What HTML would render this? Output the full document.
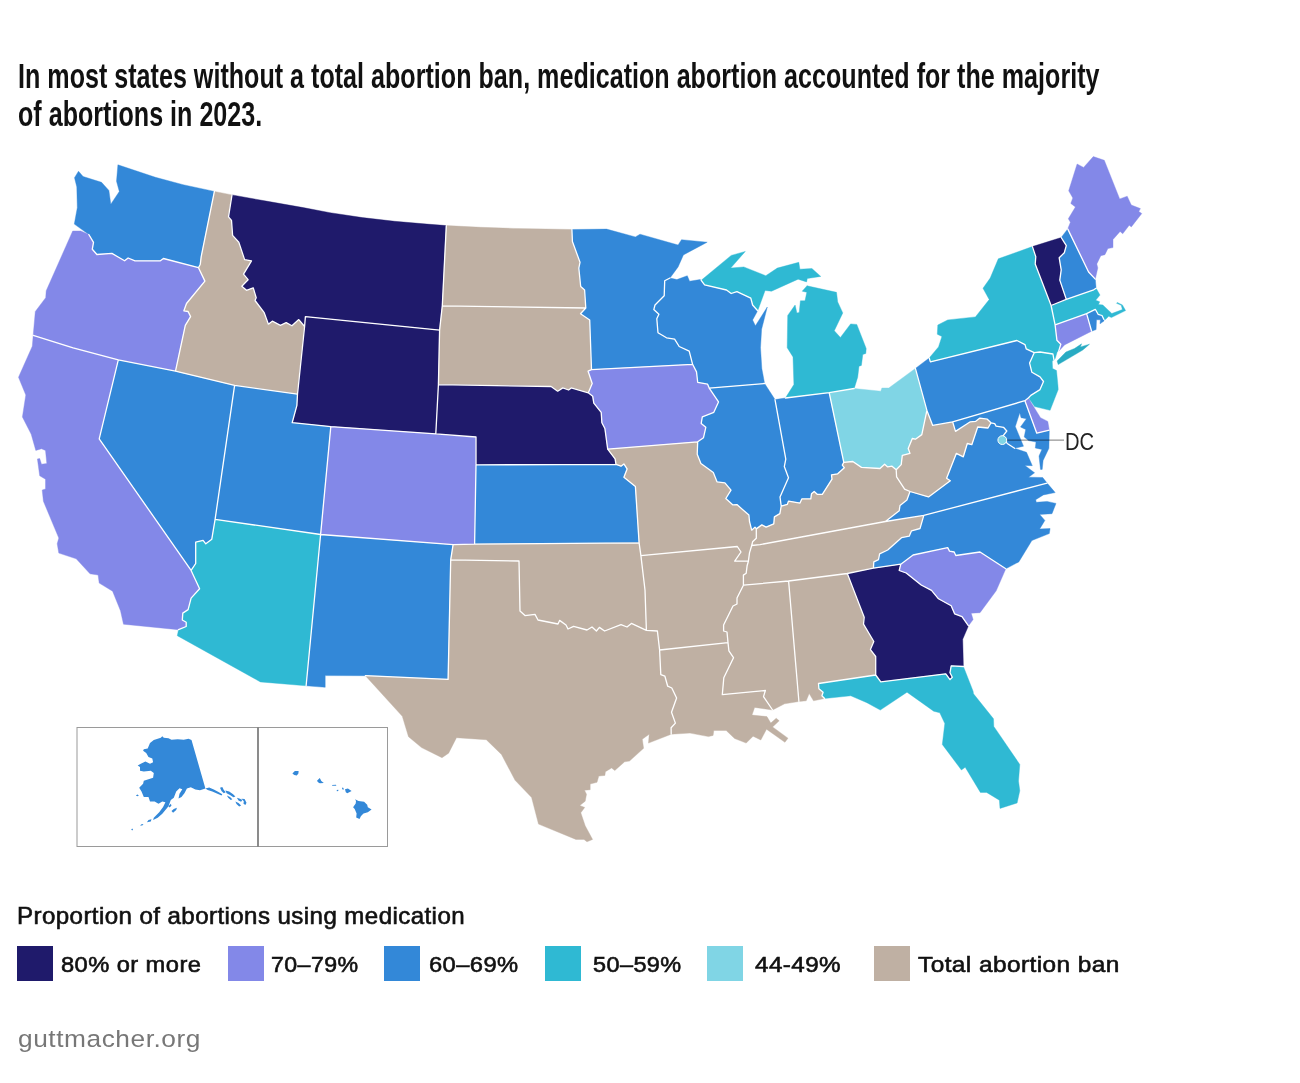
<!DOCTYPE html>
<html lang="en"><head><meta charset="utf-8"><title>Medication abortion by state, 2023</title>
<style>
html,body{margin:0;padding:0;background:#fff;}
body{width:1300px;height:1083px;position:relative;overflow:hidden;font-family:"Liberation Sans",sans-serif;color:#111;}
h1{position:absolute;left:18px;top:56.8px;margin:0;font-size:34.5px;line-height:38.5px;font-weight:bold;white-space:nowrap;transform-origin:0 0;transform:scaleX(0.728);letter-spacing:0px;color:#111;}
#map{position:absolute;left:0;top:0;}
#map path{stroke-width:0.4;stroke-linejoin:round;}
#map path.bd{fill:none;stroke:#fff;stroke-width:1.3;stroke-linejoin:round;stroke-linecap:round;}
#map path.ns{stroke:none;}
.lt{position:absolute;top:901.8px;line-height:28px;white-space:nowrap;color:#111;transform-origin:0 0;-webkit-text-stroke:0.6px #111;}
.sw{position:absolute;top:946px;width:36px;height:35px;}
.lb{position:absolute;top:951.5px;white-space:nowrap;line-height:26px;color:#111;transform-origin:0 0;-webkit-text-stroke:0.6px #111;}
.ft{position:absolute;top:1025px;line-height:28px;color:#777;white-space:nowrap;transform-origin:0 0;}
</style></head><body>
<h1>In most states without a total abortion ban, medication abortion accounted for the majority<br>of abortions in 2023.</h1>
<svg id="map" width="1300" height="1083" viewBox="0 0 1300 1083">
<path id="WA" fill="#3388d8" stroke="#3388d8" d="M117.9,164.8L155.4,177.3L183.1,184.7L214.4,191.4L201.2,256.6L200.3,264.2L198.5,267.7L163.4,258.5L160.4,260.8L135.0,260.8L128.1,258.0L124.6,260.8L111.9,253.4L96.9,254.5L92.3,249.2L93.5,242.3L88.8,234.5L74.3,224.1L77.3,207.7L76.8,186.9L74.5,177.7L78.5,171.2L83.1,176.5L101.5,182.3L108.9,190.4L110.8,204.2L119.3,191.5L116.5,181.2L117.9,164.8Z"/>
<path id="OR" fill="#8388e8" stroke="#8388e8" d="M88.8,234.5L93.5,242.3L92.3,249.2L96.9,254.5L111.9,253.4L124.6,260.8L128.1,258.0L135.0,260.8L160.4,260.8L163.4,258.5L198.5,267.7L204.9,281.1L186.5,303.5L183.9,310.8L188.1,311.5L190.6,316.6L185.3,325.4L175.5,371.2L118.3,359.9L73.1,347.8L33.2,335.3L35.3,311.5L45.7,297.7L46.2,290.8L60.5,258.5L72.7,231.0L80.8,231.0L88.8,234.5Z"/>
<path id="CA" fill="#8388e8" stroke="#8388e8" d="M33.2,335.3L73.1,347.8L118.3,359.9L99.2,438.8L191.1,570.4L199.6,588.8L191.1,598.1L188.1,609.6L182.8,613.1L182.3,620.0L186.2,622.3L186.2,626.5L178.5,629.7L123.5,624.2L120.5,610.8L112.6,591.2L99.2,583.1L98.1,575.0L90.0,573.8L76.2,558.8L58.8,553.1L57.2,543.8L58.8,538.1L43.4,501.2L42.2,490.1L45.5,488.9L45.5,479.2L39.7,475.8L37.4,458.9L39.7,458.5L41.5,464.2L46.8,463.5L45.5,450.4L41.5,448.8L35.8,450.4L31.2,434.2L22.4,416.9L25.8,395.0L18.5,377.3L32.3,346.2L33.2,335.3Z"/>
<path id="NV" fill="#3388d8" stroke="#3388d8" d="M118.3,359.9L175.5,371.2L234.6,385.3L215.1,519.4L211.8,539.2L205.8,543.8L203.1,540.4L195.7,542.2L195.7,563.5L191.1,570.4L99.2,438.8L118.3,359.9Z"/>
<path id="ID" fill="#bfb0a3" stroke="#bfb0a3" d="M214.4,191.4L232.0,194.9L228.5,216.9L231.5,220.4L232.6,235.4L238.8,242.3L244.6,259.6L251.5,260.8L243.5,274.2L248.1,279.7L241.8,286.2L246.5,290.3L253.2,287.8L256.2,297.7L255.0,300.5L264.2,312.7L268.4,324.2L272.3,321.2L280.4,325.4L286.2,322.6L291.9,325.8L298.8,319.6L304.6,326.5L297.5,394.2L234.6,385.3L175.5,371.2L185.3,325.4L190.6,316.6L188.1,311.5L183.9,310.8L186.5,303.5L204.9,281.1L198.5,267.7L200.3,264.2L201.2,256.6L214.4,191.4Z"/>
<path id="MT" fill="#1f1a6b" stroke="#1f1a6b" d="M232.0,194.9L266.1,201.1L303.1,207.6L330.0,212.7L362.3,217.6L394.6,221.3L426.9,224.1L446.3,225.6L442.3,305.8L439.6,330.1L305.4,316.6L304.6,326.5L298.8,319.6L291.9,325.8L286.2,322.6L280.4,325.4L272.3,321.2L268.4,324.2L264.2,312.7L255.0,300.5L256.2,297.7L253.2,287.8L246.5,290.3L241.8,286.2L248.1,279.7L243.5,274.2L251.5,260.8L244.6,259.6L238.8,242.3L232.6,235.4L231.5,220.4L228.5,216.9L232.0,194.9Z"/>
<path id="WY" fill="#1f1a6b" stroke="#1f1a6b" d="M304.6,326.5L305.4,316.6L439.6,330.1L438.4,384.7L435.8,433.9L330.8,426.6L292.2,422.7L296.9,405.3L297.5,394.2L304.6,326.5Z"/>
<path id="UT" fill="#3388d8" stroke="#3388d8" d="M234.6,385.3L297.5,394.2L296.9,405.3L292.2,422.7L330.8,426.6L320.6,534.5L215.1,519.4L234.6,385.3Z"/>
<path id="AZ" fill="#2fb9d3" stroke="#2fb9d3" d="M215.1,519.4L320.6,534.5L306.1,685.8L260.4,681.9L177.3,635.7L178.5,629.7L186.2,626.5L186.2,622.3L182.3,620.0L182.8,613.1L188.1,609.6L191.1,598.1L199.6,588.8L191.1,570.4L195.7,563.5L195.7,542.2L203.1,540.4L205.8,543.8L211.8,539.2L215.1,519.4Z"/>
<path id="NM" fill="#3388d8" stroke="#3388d8" d="M320.6,534.5L453.1,544.7L450.7,559.8L448.1,679.4L365.4,675.7L325.2,675.6L325.2,687.3L306.1,685.8L320.6,534.5Z"/>
<path id="CO" fill="#8388e8" stroke="#8388e8" d="M330.8,426.6L435.8,433.9L476.0,437.0L476.0,464.9L474.6,544.1L453.1,544.7L320.6,534.5L330.8,426.6Z"/>
<path id="ND" fill="#bfb0a3" stroke="#bfb0a3" d="M446.3,225.6L480.8,227.3L513.1,228.4L545.4,229.0L571.9,229.5L572.4,241.5L580.0,262.3L578.8,268.1L580.7,286.5L584.6,290.0L585.8,308.0L442.3,305.8L446.3,225.6Z"/>
<path id="SD" fill="#bfb0a3" stroke="#bfb0a3" d="M442.3,305.8L585.8,308.0L580.5,313.8L589.7,320.0L591.5,369.6L588.1,371.2L592.2,383.5L588.3,392.8L571.2,387.9L568.6,390.0L562.8,387.9L557.7,391.2L551.1,386.5L438.4,384.7L439.6,330.1L442.3,305.8Z"/>
<path id="NE" fill="#1f1a6b" stroke="#1f1a6b" d="M438.4,384.7L551.1,386.5L557.7,391.2L562.8,387.9L568.6,390.0L571.2,387.9L588.3,392.8L592.7,396.2L593.8,403.1L601.2,412.3L601.9,422.7L604.9,428.5L607.7,449.2L615.1,458.8L616.0,464.3L476.0,464.9L476.0,437.0L435.8,433.9L438.4,384.7Z"/>
<path id="KS" fill="#3388d8" stroke="#3388d8" d="M476.0,464.9L616.0,464.3L621.0,466.2L623.9,463.9L627.1,468.9L623.9,477.2L635.4,486.5L639.1,542.8L474.6,544.1L476.0,464.9Z"/>
<path id="OK" fill="#bfb0a3" stroke="#bfb0a3" d="M474.6,544.1L639.1,542.8L640.9,555.7L645.0,590.0L646.4,630.4L631.4,623.4L627.0,627.0L621.0,624.6L604.6,631.0L599.4,627.4L596.4,631.0L592.0,627.0L587.0,630.0L573.6,626.4L568.0,629.0L566.0,625.0L559.6,620.4L558.0,624.0L538.0,620.0L535.0,614.4L525.0,615.6L520.0,611.0L519.0,561.0L450.7,559.8L453.1,544.7L474.6,544.1Z"/>
<path id="TX" fill="#bfb0a3" stroke="#bfb0a3" d="M450.7,559.8L519.0,561.0L520.0,611.0L525.0,615.6L535.0,614.4L538.0,620.0L558.0,624.0L559.6,620.4L566.0,625.0L568.0,629.0L573.6,626.4L587.0,630.0L592.0,627.0L596.4,631.0L599.4,627.4L604.6,631.0L621.0,624.6L627.0,627.0L631.4,623.4L646.4,630.4L657.4,631.0L659.6,650.0L660.8,674.6L664.9,676.2L667.7,686.2L671.8,688.0L676.6,698.0L671.5,712.3L675.4,723.1L671.1,727.7L671.2,734.2L648.5,743.1L649.2,734.2L642.3,739.2L643.6,748.3L629.5,761.1L624.6,761.8L614.8,770.5L611.6,768.0L605.4,771.7L604.9,775.4L598.8,776.1L597.0,782.3L590.2,784.0L590.2,789.7L584.5,790.2L586.5,794.3L585.2,801.2L579.8,805.4L584.7,807.4L580.8,812.8L585.2,825.8L592.6,839.4L587.0,841.8L584.0,839.4L575.9,839.4L538.5,824.1L531.6,797.5L515.1,780.3L501.5,754.5L486.3,739.7L456.5,737.7L448.6,753.2L442.0,757.7L421.5,747.6L408.5,736.7L402.3,716.3L365.4,675.7L448.1,679.4L450.7,559.8Z"/>
<path id="MN" fill="#3388d8" stroke="#3388d8" d="M571.9,229.5L606.5,229.1L635.4,236.9L640.0,234.2L678.1,245.0L681.5,239.7L707.2,242.2L683.4,254.9L678.1,266.9L670.0,278.0L664.7,280.8L664.2,295.8L655.0,305.0L653.8,309.6L658.9,314.2L656.8,318.8L658.0,332.7L666.5,337.8L674.6,339.2L679.2,346.5L689.2,351.2L692.6,364.3L591.5,369.6L589.7,320.0L580.5,313.8L585.8,308.0L584.6,290.0L580.7,286.5L578.8,268.1L580.0,262.3L572.4,241.5L571.9,229.5Z"/>
<path id="IA" fill="#8388e8" stroke="#8388e8" d="M591.5,369.6L692.6,364.3L696.5,371.9L697.7,382.3L707.6,384.2L709.2,388.1L718.5,401.9L713.8,412.3L702.3,416.9L701.2,423.4L705.8,427.3L703.5,437.7L697.7,441.8L607.7,449.2L604.9,428.5L601.9,422.7L601.2,412.3L593.8,403.1L592.7,396.2L588.3,392.8L592.2,383.5L588.1,371.2L591.5,369.6Z"/>
<path id="MO" fill="#bfb0a3" stroke="#bfb0a3" d="M607.7,449.2L697.7,441.8L697.2,454.2L700.9,463.4L713.3,472.6L717.0,481.8L724.9,482.8L731.0,490.2L725.8,498.5L732.9,504.9L736.9,504.6L748.9,515.1L749.5,521.5L751.7,530.2L755.0,527.1L756.3,528.9L756.3,538.2L752.6,541.8L751.7,545.5L749.5,552.9L748.4,561.2L734.7,561.2L741.0,552.0L737.3,546.5L640.9,555.7L639.1,542.8L635.4,486.5L623.9,477.2L627.1,468.9L623.9,463.9L621.0,466.2L616.0,464.3L615.1,458.8L607.7,449.2Z"/>
<path id="AR" fill="#bfb0a3" stroke="#bfb0a3" d="M640.9,555.7L737.3,546.5L741.0,552.0L734.7,561.2L748.4,561.2L747.1,565.8L746.2,573.2L743.4,575.1L743.4,585.2L737.0,598.0L737.0,604.0L733.0,606.0L723.6,625.0L723.6,631.0L727.0,632.0L728.0,642.6L659.6,650.0L657.4,631.0L646.4,630.4L645.0,590.0L640.9,555.7Z"/>
<path id="LA" fill="#bfb0a3" stroke="#bfb0a3" d="M659.6,650.0L728.0,642.6L728.9,650.8L733.5,657.7L723.8,677.7L722.3,694.6L765.4,690.5L763.5,696.6L772.6,710.0L754.6,707.4L752.0,715.1L766.9,716.6L770.8,723.1L776.2,718.2L779.2,720.8L772.6,726.9L788.0,738.2L784.9,742.3L766.5,729.2L760.8,740.0L753.1,736.2L746.2,743.1L734.6,738.5L726.2,730.5L713.8,730.5L713.1,735.4L708.5,736.6L690.0,733.1L671.2,734.2L671.1,727.7L675.4,723.1L671.5,712.3L676.6,698.0L671.8,688.0L667.7,686.2L664.9,676.2L660.8,674.6L659.6,650.0Z"/>
<path id="WI" fill="#3388d8" stroke="#3388d8" d="M670.0,278.0L676.9,279.6L687.3,275.7L689.6,281.2L700.0,279.6L701.2,280.3L704.6,284.9L726.5,290.0L731.2,293.5L736.9,291.6L750.8,298.1L752.6,305.0L757.7,310.8L752.6,320.0L755.4,325.8L767.3,307.0L761.6,329.2L760.5,347.7L761.8,368.5L764.6,383.5L709.2,388.1L707.6,384.2L697.7,382.3L696.5,371.9L692.6,364.3L689.2,351.2L679.2,346.5L674.6,339.2L666.5,337.8L658.0,332.7L656.8,318.8L658.9,314.2L653.8,309.6L655.0,305.0L664.2,295.8L664.7,280.8L670.0,278.0Z"/>
<path id="IL" fill="#3388d8" stroke="#3388d8" d="M709.2,388.1L764.6,383.5L775.0,399.6L785.8,459.2L784.3,466.6L788.5,477.7L780.0,496.9L781.2,506.2L779.9,513.6L774.4,516.9L773.8,523.8L766.1,527.1L761.8,524.9L756.3,528.9L755.0,527.1L751.7,530.2L749.5,521.5L748.9,515.1L736.9,504.6L732.9,504.9L725.8,498.5L731.0,490.2L724.9,482.8L717.0,481.8L713.3,472.6L700.9,463.4L697.2,454.2L697.7,441.8L703.5,437.7L705.8,427.3L701.2,423.4L702.3,416.9L713.8,412.3L718.5,401.9L709.2,388.1Z"/>
<path id="IN" fill="#3388d8" stroke="#3388d8" d="M775.0,399.6L785.4,398.0L829.2,392.7L843.8,462.3L842.3,465.1L844.3,467.7L837.7,473.8L831.5,474.9L832.0,479.2L822.3,494.3L817.2,494.3L814.2,491.5L811.5,493.8L810.8,498.9L801.8,498.9L800.0,503.1L788.5,501.1L787.4,504.3L781.2,506.2L780.0,496.9L788.5,477.7L784.3,466.6L785.8,459.2L775.0,399.6Z"/>
<path id="OH" fill="#80d5e5" stroke="#80d5e5" d="M829.2,392.7L854.2,388.5L880.8,391.2L881.9,388.0L888.8,388.0L915.4,368.4L926.9,410.4L921.8,434.6L915.4,439.2L912.3,438.5L908.2,448.5L910.0,453.4L902.3,455.4L901.2,464.6L896.2,469.7L892.0,466.2L887.7,466.9L884.6,464.2L880.0,468.5L861.5,467.4L852.8,461.5L843.8,462.3L829.2,392.7Z"/>
<path id="MI" fill="#2fb9d3" stroke="#2fb9d3" d="M854.2,388.5L857.7,377.2L859.0,366.2L861.4,365.4L862.8,354.4L865.8,353.5L866.2,348.5L856.8,324.4L850.6,323.9L840.4,337.5L834.3,330.7L842.8,312.9L837.7,301.9L836.5,292.3L806.9,285.8L807.3,285.4L802.2,291.2L806.8,292.3L805.0,300.8L800.4,300.8L799.2,312.4L796.9,313.1L795.1,305.0L787.7,315.4L787.2,347.7L793.0,356.9L793.9,384.6L785.4,398.0L829.2,392.7L854.2,388.5ZM701.2,280.3L731.2,255.4L745.3,251.4L730.7,268.1L743.8,266.9L765.8,275.7L777.3,268.1L798.8,262.3L799.9,269.2L811.9,268.5L820.8,276.4L807.3,278.5L806.6,281.9L798.1,279.2L771.5,291.2L765.1,290.5L757.7,310.8L752.6,305.0L750.8,298.1L736.9,291.6L731.2,293.5L726.5,290.0L704.6,284.9L701.2,280.3Z"/>
<path id="KY" fill="#bfb0a3" stroke="#bfb0a3" d="M843.8,462.3L842.3,465.1L844.3,467.7L837.7,473.8L831.5,474.9L832.0,479.2L822.3,494.3L817.2,494.3L814.2,491.5L811.5,493.8L810.8,498.9L801.8,498.9L800.0,503.1L788.5,501.1L787.4,504.3L781.2,506.2L779.9,513.6L774.4,516.9L773.8,523.8L766.1,527.1L761.8,524.9L756.3,528.9L756.3,538.2L752.6,541.8L751.7,545.5L760.0,544.6L885.4,521.5L899.2,510.8L900.0,505.4L906.9,500.0L910.0,491.5L904.6,489.2L896.6,476.9L896.2,469.7L892.0,466.2L887.7,466.9L884.6,464.2L880.0,468.5L861.5,467.4L852.8,461.5L843.8,462.3Z"/>
<path id="TN" fill="#bfb0a3" stroke="#bfb0a3" d="M885.4,521.5L760.0,544.6L751.7,545.5L749.5,552.9L748.4,561.2L747.1,565.8L746.2,573.2L743.4,575.1L743.4,585.2L788.6,581.0L847.3,573.5L873.4,568.2L873.8,561.9L878.5,559.6L879.6,553.8L887.7,550.0L901.5,537.7L909.2,536.2L911.5,530.8L920.0,528.5L923.8,515.4L885.4,521.5Z"/>
<path id="MS" fill="#bfb0a3" stroke="#bfb0a3" d="M743.4,585.2L788.6,581.0L798.9,701.5L784.6,703.8L772.6,710.0L763.5,696.6L765.4,690.5L722.3,694.6L723.8,677.7L733.5,657.7L728.9,650.8L728.0,642.6L727.0,632.0L723.6,631.0L723.6,625.0L733.0,606.0L737.0,604.0L737.0,598.0L743.4,585.2Z"/>
<path id="AL" fill="#bfb0a3" stroke="#bfb0a3" d="M788.6,581.0L847.3,573.5L864.2,617.3L863.5,624.2L873.8,641.5L870.4,649.6L875.7,656.5L875.7,675.0L818.5,683.5L818.9,688.8L823.1,692.3L821.9,695.8L824.6,698.5L813.5,700.8L809.2,693.5L806.2,700.8L798.9,701.5L788.6,581.0Z"/>
<path id="GA" fill="#1f1a6b" stroke="#1f1a6b" d="M847.3,573.5L873.4,568.2L900.8,564.2L899.2,570.5L906.2,573.0L921.2,585.0L931.5,590.3L938.5,598.8L951.2,605.8L954.6,613.8L962.0,616.6L968.5,625.8L962.7,639.2L963.4,666.5L951.2,665.8L950.0,672.7L952.3,677.3L950.0,679.6L945.8,673.8L880.8,681.9L875.7,675.0L875.7,656.5L870.4,649.6L873.8,641.5L863.5,624.2L864.2,617.3L847.3,573.5Z"/>
<path id="FL" fill="#2fb9d3" stroke="#2fb9d3" d="M875.7,675.0L880.8,681.9L945.8,673.8L950.0,679.6L952.3,677.3L950.0,672.7L951.2,665.8L963.4,666.5L973.1,691.2L973.5,693.8L993.5,718.8L993.8,726.4L1019.8,764.5L1018.5,781.1L1019.8,790.8L1017.1,803.0L1000.0,808.4L999.4,800.2L986.6,792.4L980.4,792.4L965.2,767.2L961.4,770.0L942.3,744.4L944.8,723.6L939.8,712.8L933.7,711.2L907.0,692.2L880.3,710.1L866.9,702.7L850.8,695.8L824.6,698.5L821.9,695.8L823.1,692.3L818.9,688.8L818.5,683.5L875.7,675.0Z"/>
<path id="SC" fill="#8388e8" stroke="#8388e8" d="M900.8,564.2L913.1,555.0L947.7,547.6L949.5,551.1L954.2,552.0L955.8,555.5L980.0,552.0L1005.8,568.8L996.2,590.8L980.0,612.7L971.2,613.2L973.1,619.6L968.5,625.8L962.0,616.6L954.6,613.8L951.2,605.8L938.5,598.8L931.5,590.3L921.2,585.0L906.2,573.0L899.2,570.5L900.8,564.2Z"/>
<path id="NC" fill="#3388d8" stroke="#3388d8" d="M923.8,515.4L1047.1,483.1L1055.2,492.6L1043.4,494.9L1035.7,499.7L1036.3,502.3L1047.1,501.4L1056.0,503.4L1052.0,513.7L1039.7,514.4L1044.9,520.4L1039.7,528.9L1050.1,528.5L1049.3,533.6L1031.9,540.5L1018.8,561.9L1005.8,568.8L980.0,552.0L955.8,555.5L954.2,552.0L949.5,551.1L947.7,547.6L913.1,555.0L900.8,564.2L873.4,568.2L873.8,561.9L878.5,559.6L879.6,553.8L887.7,550.0L901.5,537.7L909.2,536.2L911.5,530.8L920.0,528.5L923.8,515.4Z"/>
<path id="VA" fill="#3388d8" stroke="#3388d8" d="M885.4,521.5L923.8,515.4L1047.1,483.1L1042.7,477.5L1028.6,477.2L1034.6,472.8L1024.9,465.4L1032.3,465.7L1026.5,452.3L1014.6,448.3L1007.2,443.5L1002.8,436.1L1006.8,431.0L1003.5,427.3L996.1,426.1L994.7,423.6L991.0,422.8L988.0,428.0L977.7,427.0L971.8,444.7L967.3,443.5L963.3,456.8L956.3,453.4L946.6,478.2L950.3,480.8L928.5,496.9L910.0,491.5L906.9,500.0L900.0,505.4L899.2,510.8L885.4,521.5Z"/>
<path id="WV" fill="#bfb0a3" stroke="#bfb0a3" d="M896.2,469.7L901.2,464.6L902.3,455.4L910.0,453.4L908.2,448.5L912.3,438.5L915.4,439.2L921.8,434.6L926.9,410.4L932.7,425.4L952.6,421.8L955.5,431.4L970.3,421.8L975.5,421.4L979.9,418.1L987.3,419.2L991.0,422.8L988.0,428.0L977.7,427.0L971.8,444.7L967.3,443.5L963.3,456.8L956.3,453.4L946.6,478.2L950.3,480.8L928.5,496.9L910.0,491.5L904.6,489.2L896.6,476.9L896.2,469.7Z"/>
<path id="MD" fill="#3388d8" stroke="#3388d8" d="M952.6,421.8L1024.9,400.7L1036.8,433.2L1049.3,430.2L1048.9,448.3L1043.1,460.5L1042.2,469.4L1040.5,469.4L1039.0,456.1L1041.9,449.4L1035.3,448.0L1036.0,442.0L1028.6,440.6L1024.2,436.9L1025.7,429.5L1020.5,427.0L1026.4,418.7L1021.0,417.7L1019.8,412.8L1015.3,426.5L1023.5,446.2L1014.6,448.3L1007.2,443.5L1002.8,436.1L1006.8,431.0L1003.5,427.3L996.1,426.1L994.7,423.6L991.0,422.8L987.3,419.2L979.9,418.1L975.5,421.4L970.3,421.8L955.5,431.4L952.6,421.8Z"/>
<path id="DE" fill="#8388e8" stroke="#8388e8" d="M1024.9,400.7L1028.6,397.7L1030.9,402.2L1040.5,417.7L1047.8,421.4L1049.3,430.2L1036.8,433.2L1024.9,400.7Z"/>
<path id="PA" fill="#3388d8" stroke="#3388d8" d="M915.4,368.4L929.2,358.0L930.4,361.9L1016.9,340.5L1025.0,344.6L1026.2,348.8L1034.2,352.7L1029.6,363.1L1031.9,372.3L1040.0,376.9L1043.5,381.5L1040.0,389.6L1030.8,395.4L1028.6,397.7L1024.9,400.7L952.6,421.8L932.7,425.4L926.9,410.4L915.4,368.4Z"/>
<path id="NJ" fill="#2fb9d3" stroke="#2fb9d3" d="M1034.2,352.7L1040.0,352.0L1052.9,354.0L1054.0,360.1L1052.2,361.0L1052.6,368.5L1056.5,370.5L1058.0,386.2L1058.2,389.6L1050.1,410.3L1034.6,406.6L1030.1,399.9L1028.6,397.7L1030.8,395.4L1040.0,389.6L1043.5,381.5L1040.0,376.9L1031.9,372.3L1029.6,363.1L1034.2,352.7Z"/>
<path id="NY" fill="#2fb9d3" stroke="#2fb9d3" d="M929.2,358.0L938.5,346.9L941.9,336.5L937.3,334.2L937.8,325.0L947.7,319.9L975.4,316.9L989.2,299.6L983.5,289.2L983.0,288.2L990.2,278.1L998.3,258.8L1032.4,246.6L1035.8,256.8L1035.2,263.9L1051.1,305.5L1055.1,324.8L1056.9,340.2L1060.8,344.2L1058.6,351.4L1057.3,351.4L1055.3,358.3L1054.0,360.1L1052.9,354.0L1040.0,352.0L1034.2,352.7L1026.2,348.8L1025.0,344.6L1016.9,340.5L930.4,361.9L929.2,358.0Z"/>
<path id="LI" fill="#28abc3" stroke="#28abc3" d="M1057.1,361.0L1065.9,352.0L1074.5,348.5L1081.6,343.8L1080.4,346.9L1089.5,344.2L1082.8,350.0L1058.2,364.6L1057.1,361.0Z"/>
<path id="CT" fill="#8388e8" stroke="#8388e8" d="M1055.1,324.8L1086.6,313.6L1091.6,331.2L1064.5,344.9L1058.6,351.4L1060.8,344.2L1056.9,340.2L1055.1,324.8Z"/>
<path id="RI" fill="#3388d8" stroke="#3388d8" d="M1086.6,313.6L1095.3,309.3L1098.1,314.3L1102.0,315.5L1103.8,319.3L1104.0,321.0L1100.0,323.8L1100.4,319.8L1096.5,319.8L1096.1,329.6L1091.6,331.2L1086.6,313.6Z"/>
<path id="MA" fill="#2fb9d3" stroke="#2fb9d3" d="M1051.1,305.5L1066.3,299.4L1093.7,289.8L1096.1,288.2L1100.0,295.1L1095.7,300.2L1099.7,301.8L1098.5,304.5L1102.8,304.9L1111.8,313.5L1122.4,309.6L1121.2,305.3L1116.5,303.3L1117.3,302.4L1122.4,304.9L1125.6,310.6L1111.4,317.6L1108.7,316.3L1105.5,319.4L1103.8,319.3L1102.0,315.5L1098.1,314.3L1095.3,309.3L1086.6,313.6L1055.1,324.8L1051.1,305.5Z"/>
<path id="VT" fill="#1f1a6b" stroke="#1f1a6b" d="M1032.4,246.6L1061.2,237.5L1066.3,245.6L1064.3,252.7L1059.2,257.8L1061.2,269.9L1059.8,280.1L1066.3,299.4L1051.1,305.5L1035.2,263.9L1035.8,256.8L1032.4,246.6Z"/>
<path id="NH" fill="#3388d8" stroke="#3388d8" d="M1061.2,237.5L1067.7,228.9L1088.6,272.0L1095.3,279.1L1096.1,288.2L1093.7,289.8L1066.3,299.4L1059.8,280.1L1061.2,269.9L1059.2,257.8L1064.3,252.7L1066.3,245.6L1061.2,237.5Z"/>
<path id="ME" fill="#8388e8" stroke="#8388e8" d="M1067.7,228.9L1070.4,222.2L1068.3,218.8L1075.4,207.0L1070.8,203.4L1072.8,197.9L1068.7,190.8L1077.1,164.0L1083.6,167.4L1093.3,156.6L1104.3,160.3L1119.7,198.9L1127.2,196.2L1131.3,205.0L1140.4,208.6L1138.8,211.5L1141.8,213.5L1131.3,226.9L1129.2,225.3L1122.7,233.8L1120.1,231.4L1113.0,239.5L1113.0,247.6L1107.9,248.6L1104.9,254.7L1100.8,255.7L1096.8,263.9L1097.8,267.9L1095.3,279.1L1088.6,272.0L1067.7,228.9Z"/>
<path id="borders" class="bd" d="M214.4,191.4L201.2,256.6L200.3,264.2L198.5,267.7M88.8,234.5L93.5,242.3L92.3,249.2L96.9,254.5L111.9,253.4L124.6,260.8L128.1,258.0L135.0,260.8L160.4,260.8L163.4,258.5L198.5,267.7M198.5,267.7L204.9,281.1L186.5,303.5L183.9,310.8L188.1,311.5L190.6,316.6L185.3,325.4L175.5,371.2M118.3,359.9L175.5,371.2M33.2,335.3L73.1,347.8L118.3,359.9M118.3,359.9L99.2,438.8L191.1,570.4M191.1,570.4L199.6,588.8L191.1,598.1L188.1,609.6L182.8,613.1L182.3,620.0L186.2,622.3L186.2,626.5L178.5,629.7M175.5,371.2L234.6,385.3M234.6,385.3L215.1,519.4M215.1,519.4L211.8,539.2L205.8,543.8L203.1,540.4L195.7,542.2L195.7,563.5L191.1,570.4M232.0,194.9L228.5,216.9L231.5,220.4L232.6,235.4L238.8,242.3L244.6,259.6L251.5,260.8L243.5,274.2L248.1,279.7L241.8,286.2L246.5,290.3L253.2,287.8L256.2,297.7L255.0,300.5L264.2,312.7L268.4,324.2L272.3,321.2L280.4,325.4L286.2,322.6L291.9,325.8L298.8,319.6L304.6,326.5M304.6,326.5L297.5,394.2M234.6,385.3L297.5,394.2M442.3,305.8L446.3,225.6M439.6,330.1L442.3,305.8M304.6,326.5L305.4,316.6L439.6,330.1M439.6,330.1L438.4,384.7M438.4,384.7L435.8,433.9M435.8,433.9L330.8,426.6M330.8,426.6L292.2,422.7L296.9,405.3L297.5,394.2M330.8,426.6L320.6,534.5M320.6,534.5L215.1,519.4M320.6,534.5L306.1,685.8M320.6,534.5L453.1,544.7M453.1,544.7L450.7,559.8M450.7,559.8L448.1,679.4L365.4,675.7M435.8,433.9L476.0,437.0L476.0,464.9M476.0,464.9L474.6,544.1M474.6,544.1L453.1,544.7M585.8,308.0L584.6,290.0L580.7,286.5L578.8,268.1L580.0,262.3L572.4,241.5L571.9,229.5M442.3,305.8L585.8,308.0M591.5,369.6L589.7,320.0L580.5,313.8L585.8,308.0M588.3,392.8L592.2,383.5L588.1,371.2L591.5,369.6M438.4,384.7L551.1,386.5L557.7,391.2L562.8,387.9L568.6,390.0L571.2,387.9L588.3,392.8M607.7,449.2L604.9,428.5L601.9,422.7L601.2,412.3L593.8,403.1L592.7,396.2L588.3,392.8M616.0,464.3L615.1,458.8L607.7,449.2M476.0,464.9L616.0,464.3M616.0,464.3L621.0,466.2L623.9,463.9L627.1,468.9L623.9,477.2L635.4,486.5L639.1,542.8M474.6,544.1L639.1,542.8M639.1,542.8L640.9,555.7M640.9,555.7L645.0,590.0L646.4,630.4M450.7,559.8L519.0,561.0L520.0,611.0L525.0,615.6L535.0,614.4L538.0,620.0L558.0,624.0L559.6,620.4L566.0,625.0L568.0,629.0L573.6,626.4L587.0,630.0L592.0,627.0L596.4,631.0L599.4,627.4L604.6,631.0L621.0,624.6L627.0,627.0L631.4,623.4L646.4,630.4M646.4,630.4L657.4,631.0L659.6,650.0M659.6,650.0L660.8,674.6L664.9,676.2L667.7,686.2L671.8,688.0L676.6,698.0L671.5,712.3L675.4,723.1L671.1,727.7L671.2,734.2M670.0,278.0L664.7,280.8L664.2,295.8L655.0,305.0L653.8,309.6L658.9,314.2L656.8,318.8L658.0,332.7L666.5,337.8L674.6,339.2L679.2,346.5L689.2,351.2L692.6,364.3M591.5,369.6L692.6,364.3M692.6,364.3L696.5,371.9L697.7,382.3L707.6,384.2L709.2,388.1M709.2,388.1L718.5,401.9L713.8,412.3L702.3,416.9L701.2,423.4L705.8,427.3L703.5,437.7L697.7,441.8M607.7,449.2L697.7,441.8M697.7,441.8L697.2,454.2L700.9,463.4L713.3,472.6L717.0,481.8L724.9,482.8L731.0,490.2L725.8,498.5L732.9,504.9L736.9,504.6L748.9,515.1L749.5,521.5L751.7,530.2L755.0,527.1L756.3,528.9M756.3,528.9L756.3,538.2L752.6,541.8L751.7,545.5M751.7,545.5L749.5,552.9L748.4,561.2M640.9,555.7L737.3,546.5L741.0,552.0L734.7,561.2L748.4,561.2M748.4,561.2L747.1,565.8L746.2,573.2L743.4,575.1L743.4,585.2M743.4,585.2L737.0,598.0L737.0,604.0L733.0,606.0L723.6,625.0L723.6,631.0L727.0,632.0L728.0,642.6M659.6,650.0L728.0,642.6M728.0,642.6L728.9,650.8L733.5,657.7L723.8,677.7L722.3,694.6L765.4,690.5L763.5,696.6L772.6,710.0M701.2,280.3L704.6,284.9L726.5,290.0L731.2,293.5L736.9,291.6L750.8,298.1L752.6,305.0L757.7,310.8M709.2,388.1L764.6,383.5M781.2,506.2L780.0,496.9L788.5,477.7L784.3,466.6L785.8,459.2L775.0,399.6M756.3,528.9L761.8,524.9L766.1,527.1L773.8,523.8L774.4,516.9L779.9,513.6L781.2,506.2M785.4,398.0L829.2,392.7M829.2,392.7L843.8,462.3M781.2,506.2L787.4,504.3L788.5,501.1L800.0,503.1L801.8,498.9L810.8,498.9L811.5,493.8L814.2,491.5L817.2,494.3L822.3,494.3L832.0,479.2L831.5,474.9L837.7,473.8L844.3,467.7L842.3,465.1L843.8,462.3M829.2,392.7L854.2,388.5M926.9,410.4L915.4,368.4M896.2,469.7L901.2,464.6L902.3,455.4L910.0,453.4L908.2,448.5L912.3,438.5L915.4,439.2L921.8,434.6L926.9,410.4M843.8,462.3L852.8,461.5L861.5,467.4L880.0,468.5L884.6,464.2L887.7,466.9L892.0,466.2L896.2,469.7M885.4,521.5L760.0,544.6L751.7,545.5M910.0,491.5L906.9,500.0L900.0,505.4L899.2,510.8L885.4,521.5M896.2,469.7L896.6,476.9L904.6,489.2L910.0,491.5M743.4,585.2L788.6,581.0M788.6,581.0L847.3,573.5M847.3,573.5L873.4,568.2M873.4,568.2L873.8,561.9L878.5,559.6L879.6,553.8L887.7,550.0L901.5,537.7L909.2,536.2L911.5,530.8L920.0,528.5L923.8,515.4M885.4,521.5L923.8,515.4M788.6,581.0L798.9,701.5M847.3,573.5L864.2,617.3L863.5,624.2L873.8,641.5L870.4,649.6L875.7,656.5L875.7,675.0M875.7,675.0L818.5,683.5L818.9,688.8L823.1,692.3L821.9,695.8L824.6,698.5M873.4,568.2L900.8,564.2M900.8,564.2L899.2,570.5L906.2,573.0L921.2,585.0L931.5,590.3L938.5,598.8L951.2,605.8L954.6,613.8L962.0,616.6L968.5,625.8M875.7,675.0L880.8,681.9L945.8,673.8L950.0,679.6L952.3,677.3L950.0,672.7L951.2,665.8L963.4,666.5M900.8,564.2L913.1,555.0L947.7,547.6L949.5,551.1L954.2,552.0L955.8,555.5L980.0,552.0L1005.8,568.8M923.8,515.4L1047.1,483.1M991.0,422.8L994.7,423.6L996.1,426.1L1003.5,427.3L1006.8,431.0L1002.8,436.1L1007.2,443.5L1014.6,448.3M991.0,422.8L988.0,428.0L977.7,427.0L971.8,444.7L967.3,443.5L963.3,456.8L956.3,453.4L946.6,478.2L950.3,480.8L928.5,496.9L910.0,491.5M926.9,410.4L932.7,425.4L952.6,421.8M952.6,421.8L955.5,431.4L970.3,421.8L975.5,421.4L979.9,418.1L987.3,419.2L991.0,422.8M952.6,421.8L1024.9,400.7M1049.3,430.2L1036.8,433.2L1024.9,400.7M1024.9,400.7L1028.6,397.7M929.2,358.0L930.4,361.9L1016.9,340.5L1025.0,344.6L1026.2,348.8L1034.2,352.7M1034.2,352.7L1029.6,363.1L1031.9,372.3L1040.0,376.9L1043.5,381.5L1040.0,389.6L1030.8,395.4L1028.6,397.7M1034.2,352.7L1040.0,352.0L1052.9,354.0L1054.0,360.1M1032.4,246.6L1035.8,256.8L1035.2,263.9L1051.1,305.5M1051.1,305.5L1055.1,324.8M1055.1,324.8L1056.9,340.2L1060.8,344.2L1058.6,351.4M1055.1,324.8L1086.6,313.6M1086.6,313.6L1091.6,331.2M1086.6,313.6L1095.3,309.3L1098.1,314.3L1102.0,315.5L1103.8,319.3M1051.1,305.5L1066.3,299.4M1066.3,299.4L1093.7,289.8L1096.1,288.2M1061.2,237.5L1066.3,245.6L1064.3,252.7L1059.2,257.8L1061.2,269.9L1059.8,280.1L1066.3,299.4M1067.7,228.9L1088.6,272.0L1095.3,279.1"/>
<g id="insets">
<rect x="77" y="727.5" width="310.5" height="119" fill="#fff" stroke="#9a9a9a" stroke-width="1"/>
<line x1="258" y1="727.5" x2="258" y2="846.5" stroke="#6f6f6f" stroke-width="1.6"/>
<path class="ns" id="AK" fill="#3388d8" d="M191.5,740.0L205.4,788.5L200.0,790.3L195.4,789.5L190.8,787.2L186.9,788.5L184.6,793.1L181.5,796.9L178.5,798.5L179.5,793.8L182.3,789.2L179.5,788.2L176.2,791.5L173.8,797.7L170.8,800.0L168.5,806.2L162.3,813.8L157.7,817.7L153.1,820.0L153.8,817.7L159.2,812.3L163.1,806.9L165.4,802.3L162.3,801.5L158.5,803.8L154.6,801.5L150.0,801.5L148.5,796.9L143.8,796.9L141.5,791.5L139.2,787.7L143.1,783.8L143.8,780.8L148.5,779.2L153.1,777.7L153.8,773.1L150.8,770.8L143.8,771.5L140.0,770.8L140.0,766.9L137.7,765.4L140.8,763.8L145.4,761.5L150.0,763.8L153.1,762.3L152.3,758.5L148.5,756.9L146.2,753.1L143.1,750.8L143.8,749.2L147.7,748.5L150.0,743.1L153.8,740.0L160.8,737.7L162.3,736.2L163.8,737.7L168.5,738.2L171.5,739.7L177.7,739.2L183.8,739.7L188.5,738.8ZM205.4,788.5L209.2,787.4L213.8,789.5L218.5,792.0L222.3,794.2L221.5,795.4L216.9,793.5L212.3,791.4L207.7,790.0ZM220.0,787.7L222.3,787.1L223.8,790.0L225.7,792.3L223.8,793.2L221.5,791.1ZM225.4,790.5L229.2,791.4L233.1,794.2L235.4,796.6L233.4,797.2L230.0,795.1L226.6,793.2ZM226.9,795.4L230.0,796.9L232.3,799.2L230.8,800.0L228.2,797.8ZM236.9,797.7L240.0,798.8L242.3,800.0L241.1,801.8L238.5,800.6ZM241.5,798.8L244.6,799.1L246.5,802.8L245.4,804.9L243.5,803.8L243.8,801.2ZM235.4,801.5L238.5,803.1L241.1,805.5L239.2,806.5L236.5,804.0ZM146.9,822.3L148.5,820.0L151.5,819.2L150.8,821.5ZM140.0,825.4L141.5,824.3L143.5,824.0L142.3,825.5ZM131.2,829.5L132.2,828.6L133.1,829.5L132.2,830.5ZM135.8,795.4L137.4,794.5L138.9,795.4L137.4,796.3ZM171.5,811.1L173.8,808.9L176.9,807.7L176.2,810.0L173.1,812.8ZM168.5,806.2L170.8,803.8L171.5,805.4L169.7,807.4Z"/>
<path class="ns" id="HI" fill="#3388d8" d="M292.4,773.4L294.9,771.1L298.6,770.9L298.4,773.6L296.8,775.5L294.3,774.9ZM317.0,780.7L319.8,778.0L321.3,781.1L323.8,783.0L319.8,783.3L318.0,782.3ZM332.0,785.1L336.0,784.8L336.3,785.8L332.3,785.8ZM336.7,790.1L338.3,789.8L338.3,791.1L336.9,791.3ZM341.8,787.9L343.0,787.6L344.0,789.3L342.8,789.8ZM345.0,789.2L347.9,788.6L351.6,791.1L347.3,793.3L345.8,792.3ZM355.1,799.2L358.5,801.0L364.1,801.7L367.2,804.8L367.8,807.3L371.6,809.5L367.8,812.3L363.5,813.5L361.0,816.0L359.5,818.9L356.2,817.5L356.6,813.5L354.7,809.1L353.1,807.3L355.7,803.5L356.0,801.0Z"/>
</g>
<g id="dc"><line x1="1006" y1="440.1" x2="1064" y2="440.1" stroke="#000" stroke-opacity="0.42" stroke-width="1.3"/>
<circle cx="1002.3" cy="440.1" r="4.4" fill="#80d5e5" stroke="#fff" stroke-width="1"/>
<text x="0" y="0" transform="translate(1065.0,450.0) scale(0.865,1)" font-family="Liberation Sans, sans-serif" font-size="23.3" fill="#222">DC</text></g>
</svg>
<div class="lt" style="left:16.8px;font-size:23.2px;letter-spacing:0.40px;transform:scaleX(1.0394);">Proportion of abortions using medication</div>
<div class="sw" style="left:17.0px;background:#1f1a6b"></div>
<div class="lb" style="left:61.4px;font-size:22.4px;letter-spacing:0.40px;transform:scaleX(1.0582);">80% or more</div>
<div class="sw" style="left:227.5px;background:#8388e8"></div>
<div class="lb" style="left:271.0px;font-size:22.4px;letter-spacing:0.40px;transform:scaleX(1.0356);">70–79%</div>
<div class="sw" style="left:384.0px;background:#3388d8"></div>
<div class="lb" style="left:429.0px;font-size:22.4px;letter-spacing:0.40px;transform:scaleX(1.0597);">60–69%</div>
<div class="sw" style="left:545.0px;background:#2fb9d3"></div>
<div class="lb" style="left:592.5px;font-size:22.4px;letter-spacing:0.40px;transform:scaleX(1.0476);">50–59%</div>
<div class="sw" style="left:707.0px;background:#80d5e5"></div>
<div class="lb" style="left:755.0px;font-size:22.4px;letter-spacing:0.40px;transform:scaleX(1.0814);">44-49%</div>
<div class="sw" style="left:874.0px;background:#bfb0a3"></div>
<div class="lb" style="left:918.0px;font-size:22.4px;letter-spacing:0.40px;transform:scaleX(1.0894);">Total abortion ban</div>
<div class="ft" style="left:17.6px;font-size:24.5px;letter-spacing:0.50px;transform:scaleX(1.0735);">guttmacher.org</div>
</body></html>
